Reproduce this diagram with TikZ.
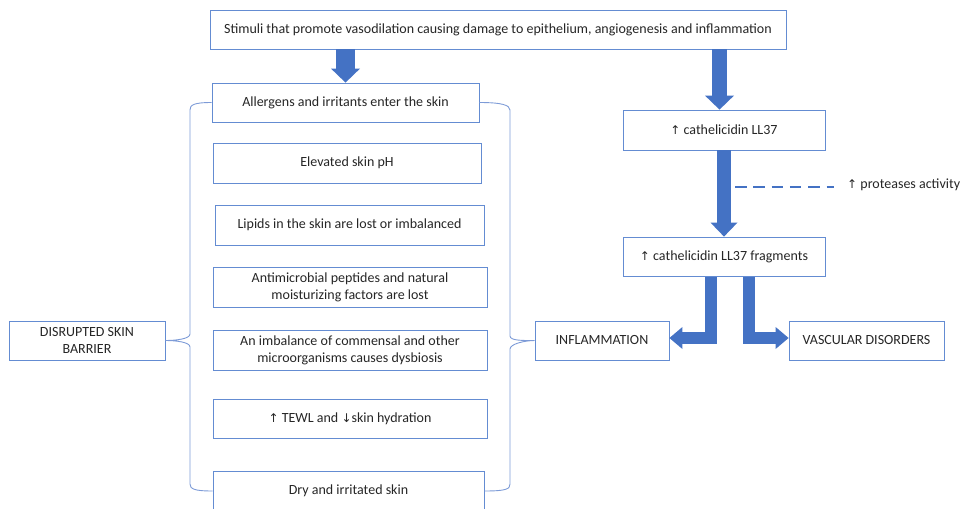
\documentclass[tikz,border=0pt]{standalone}
\usepackage{fontspec}
\setmainfont{Carlito}
\newfontfamily\symf{DejaVu Sans}
\usetikzlibrary{arrows.meta,calc}
\definecolor{boxblue}{RGB}{68,114,196}
\definecolor{linecol}{RGB}{100,140,210}
\definecolor{bracecol}{RGB}{125,155,215}
\newcommand{\uparr}{{\symf\fontsize{12}{14}\selectfont ↑}}
\newcommand{\dnarr}{{\symf\fontsize{12}{14}\selectfont ↓}}
\tikzset{
  box/.style={draw=linecol, line width=0.8pt, fill=white, inner sep=0pt, align=center,
    font=\fontsize{14}{17}\selectfont, text=black!85},
  fatarrow/.style={draw=boxblue, line width=#1, line cap=butt, line join=miter},
  bracel/.style={draw=bracecol, line width=0.9pt},
  dashl/.style={draw=boxblue, line width=2pt, dash pattern=on 11.5pt off 6.8pt}
}
\begin{document}
\begin{tikzpicture}[x=1pt,y=-1pt]
\useasboundingbox (0,0) rectangle (962,509);
\clip (0,0) rectangle (962,509);
% nodes
\node[box, minimum width=576pt, minimum height=39pt] (top) at (498,29.5)
  {Stimuli that promote vasodilation causing damage to epithelium, angiogenesis and inflammation};
\node[box, minimum width=267pt, minimum height=39pt] (al) at (345.5,102.5) {Allergens and irritants enter the skin};
\node[box, minimum width=268pt, minimum height=40pt] (ph) at (347,163) {Elevated skin pH};
\node[box, minimum width=269pt, minimum height=40pt] (lip) at (349.5,225) {Lipids in the skin are lost or imbalanced};
\node[box, minimum width=274pt, minimum height=40pt] (amp) at (350,287) {Antimicrobial peptides and natural\\moisturizing factors are lost};
\node[box, minimum width=274pt, minimum height=40pt] (imb) at (350,350) {An imbalance of commensal and other\\microorganisms causes dysbiosis};
\node[box, minimum width=274pt, minimum height=39pt] (tewl) at (350,418.5) {\uparr{} TEWL and \dnarr{}skin hydration};
\node[box, minimum width=271pt, minimum height=40pt] (dry) at (348.5,491) {Dry and irritated skin};
\node[box, minimum width=156pt, minimum height=39pt] (dis) at (87,340.5) {DISRUPTED SKIN\\BARRIER};
\node[box, minimum width=134pt, minimum height=39pt] (infl) at (602,340.5) {INFLAMMATION};
\node[box, minimum width=155pt, minimum height=39pt] (vasc) at (866.5,340.5) {VASCULAR DISORDERS};
\node[box, minimum width=202pt, minimum height=40pt] (ll) at (724,130) {\uparr{} cathelicidin LL37};
\node[box, minimum width=202pt, minimum height=39pt] (fr) at (724,256.5) {\uparr{} cathelicidin LL37 fragments};
\node[anchor=west, inner sep=0pt, font=\fontsize{14}{17}\selectfont, text=black!85] (prot) at (847,185) {\uparr{} proteases activity};
% fat arrows
\draw[fatarrow=19pt, -{Triangle[length=14pt,width=29pt,line width=0pt]}] (top.south -| al.north) -- (al.north);
\draw[fatarrow=15pt, -{Triangle[length=14pt,width=29pt,line width=0pt]}] ([xshift=-4.5pt]top.south -| ll.north) -- ([xshift=-4.5pt]ll.north);
\draw[fatarrow=14pt, -{Triangle[length=14pt,width=27pt,line width=0pt]}] (ll.south) -- (fr.north);
\draw[fatarrow=12pt, -{Triangle[length=13pt,width=22pt,line width=0pt]}] ([xshift=-13pt,yshift=-1pt]fr.south) |- ([yshift=2.5pt]infl.east);
\draw[fatarrow=12pt, -{Triangle[length=13pt,width=22pt,line width=0pt]}] ([xshift=25pt,yshift=-1pt]fr.south) |- ([yshift=2.5pt]vasc.west);
% dashed
\coordinate (dstart) at (735,187);
\draw[dashl] (dstart) -- ([xshift=-13pt]dstart -| prot.west);
% braces
\draw[bracel] (al.west) .. controls +(-18,0) and +(0,-5) .. (190,110) -- (190,334)
  .. controls +(0,5) and +(10,0) .. (dis.east)
  .. controls +(10,0) and +(0,-5) .. (190,347) -- (190,484)
  .. controls +(0,5) and +(-18,0) .. (dry.west);
\draw[bracel] (al.east) .. controls +(22,0) and +(0,-5) .. (510,110) -- (510,336)
  .. controls +(0,5) and +(-10,0) .. (infl.west)
  .. controls +(-10,0) and +(0,-5) .. (510,349) -- (510,484)
  .. controls +(0,5) and +(22,0) .. (dry.east);
\end{tikzpicture}
\end{document}
